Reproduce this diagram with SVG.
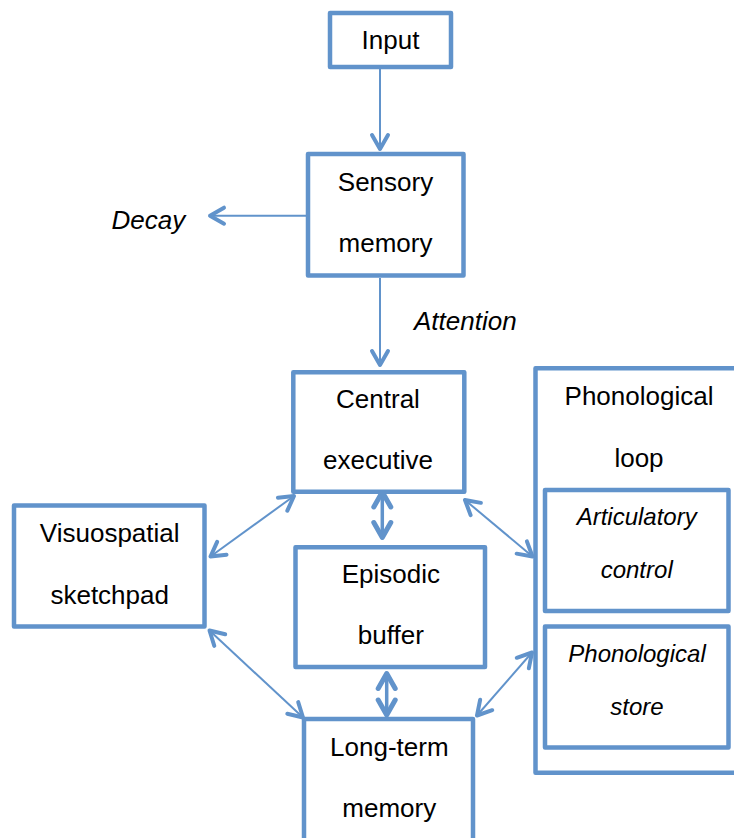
<svg xmlns="http://www.w3.org/2000/svg" width="734" height="838" viewBox="0 0 734 838">
<defs>
<style>
.box{fill:#fff;stroke:#6193CB;stroke-width:4.5;stroke-linejoin:round}
.t{font-family:"Liberation Sans",Arial,sans-serif;font-size:26px;fill:#000;text-anchor:middle}
.ti{font-family:"Liberation Sans",Arial,sans-serif;font-size:24px;font-style:italic;fill:#000;text-anchor:middle}
.lbl{font-family:"Liberation Sans",Arial,sans-serif;font-size:26px;font-style:italic;fill:#000}
.c{fill:none;stroke:#6193CB;stroke-width:2}
.ct{fill:none;stroke:#6193CB;stroke-width:3.5}
</style>
<marker id="ah" markerUnits="userSpaceOnUse" orient="auto-start-reverse" refX="0" refY="0" markerWidth="20" markerHeight="20" overflow="visible">
<path d="M-14,-8 L0,0 L-14,8" fill="none" stroke="#6193CB" stroke-width="4" stroke-linecap="round" stroke-linejoin="round"/>
</marker>
<marker id="ahT" markerUnits="userSpaceOnUse" orient="auto-start-reverse" refX="0" refY="0" markerWidth="20" markerHeight="20" overflow="visible">
<path d="M-15,-8.5 L0,0 L-15,8.5" fill="none" stroke="#6193CB" stroke-width="5" stroke-linecap="round" stroke-linejoin="round"/>
</marker>
</defs>
<rect width="734" height="838" fill="#fff"/>

<g id="connectors">
<line class="c" x1="380" y1="69" x2="380" y2="149" marker-end="url(#ah)"/>
<line class="c" x1="306" y1="215.7" x2="210" y2="215.7" marker-end="url(#ah)"/>
<line class="c" x1="380" y1="278" x2="380" y2="365" marker-end="url(#ah)"/>
<line class="c" x1="294" y1="496" x2="210.5" y2="556.5" marker-start="url(#ah)" marker-end="url(#ah)"/>
<line class="c" x1="465" y1="500" x2="532.5" y2="556.5" marker-start="url(#ah)" marker-end="url(#ah)"/>
<line class="c" x1="209.5" y1="630.5" x2="303" y2="717.5" marker-start="url(#ah)" marker-end="url(#ah)"/>
<line class="c" x1="532" y1="652.5" x2="477" y2="715.5" marker-start="url(#ah)" marker-end="url(#ah)"/>
<line class="ct" x1="382.3" y1="492" x2="382.3" y2="537.5" marker-start="url(#ahT)" marker-end="url(#ahT)"/>
<line class="ct" x1="386.7" y1="673.5" x2="386.7" y2="715" marker-start="url(#ahT)" marker-end="url(#ahT)"/>
<text class="lbl" x="111.5" y="228.5">Decay</text>
<text class="lbl" x="414" y="329.5">Attention</text>
</g>

<g id="input">
<rect class="box" x="330" y="13" width="121" height="54"/>
<text class="t" x="390.5" y="49">Input</text>
</g>

<g id="sensory">
<rect class="box" x="308" y="154" width="155.5" height="121.5"/>
<text class="t" x="385.5" y="191">Sensory</text>
<text class="t" x="385.5" y="252">memory</text>
</g>

<g id="central">
<rect class="box" x="293.3" y="372.3" width="171" height="119.5"/>
<text class="t" x="378" y="408">Central</text>
<text class="t" x="378" y="468.5">executive</text>
</g>

<g id="visuospatial">
<rect class="box" x="14" y="505.5" width="190.5" height="121"/>
<text class="t" x="109.7" y="541.7">Visuospatial</text>
<text class="t" x="109.7" y="604.3">sketchpad</text>
</g>

<g id="episodic">
<rect class="box" x="295.5" y="547.3" width="189.5" height="119.8"/>
<text class="t" x="390.8" y="583.3">Episodic</text>
<text class="t" x="390.8" y="644">buffer</text>
</g>

<g id="longterm">
<rect class="box" x="304" y="719" width="169" height="150"/>
<text class="t" x="389.3" y="756">Long-term</text>
<text class="t" x="389.3" y="816.7">memory</text>
</g>

<g id="phonological-loop">
<rect class="box" x="535.5" y="368.3" width="230" height="404.5"/>
<text class="t" x="639" y="405">Phonological</text>
<text class="t" x="639" y="466.7">loop</text>
</g>

<g id="articulatory">
<rect class="box" x="545" y="490" width="183.5" height="121"/>
<text class="ti" x="636.7" y="525">Articulatory</text>
<text class="ti" x="636.7" y="578">control</text>
</g>

<g id="phonological-store">
<rect class="box" x="545" y="626.5" width="183.5" height="121"/>
<text class="ti" x="637" y="661.7">Phonological</text>
<text class="ti" x="637" y="715">store</text>
</g>
</svg>
